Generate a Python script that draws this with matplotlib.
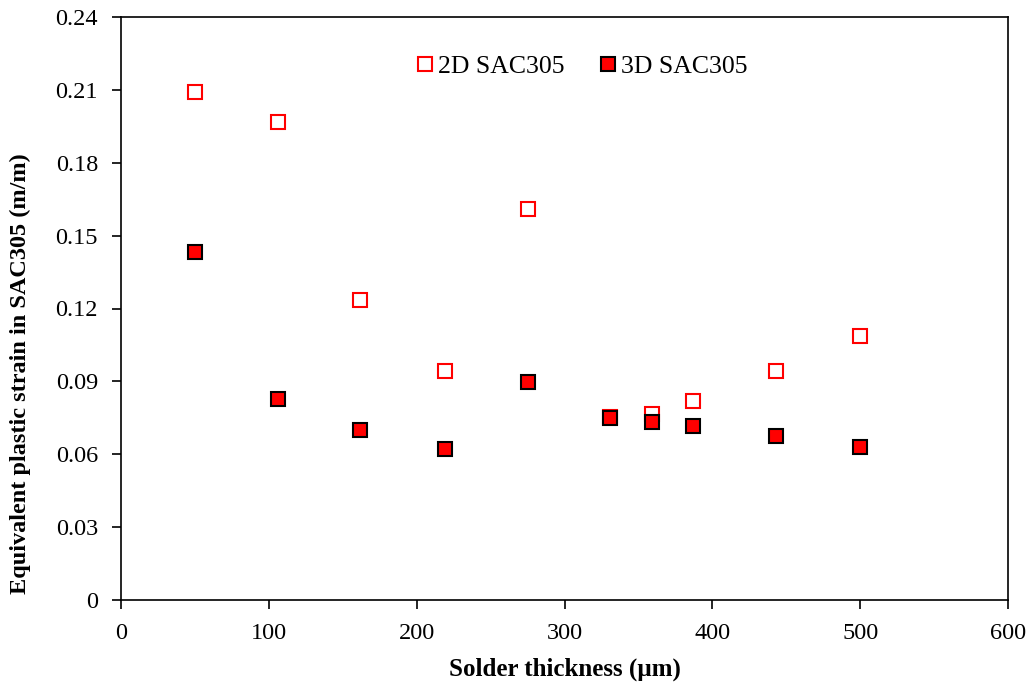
import matplotlib
matplotlib.use("Agg")
import matplotlib.pyplot as plt

# 데이터
thickness = [50, 106, 162, 219, 275, 331, 359, 387, 443, 500]
strain_2d = [0.2091, 0.1969, 0.1233, 0.0944, 0.1610, 0.0752, 0.0767, 0.0821, 0.0944, 0.1087]
strain_3d = [0.1431, 0.0829, 0.0701, 0.0623, 0.0899, 0.0751, 0.0734, 0.0718, 0.0676, 0.0631]

plt.rcParams['font.family'] = ['Liberation Serif', 'DejaVu Serif']

fig = plt.figure(figsize=(10.36, 6.84), dpi=100)
ax = fig.add_axes([121 / 1036, 1 - 600 / 684, (1008 - 121) / 1036, (600 - 17) / 684])

ax.plot(thickness, strain_2d, linestyle='none', marker='s', markersize=10,
        markerfacecolor='white', markeredgecolor='#ff0000', markeredgewidth=1.5,
        label='2D SAC305')
ax.plot(thickness, strain_3d, linestyle='none', marker='s', markersize=10,
        markerfacecolor='#ff0000', markeredgecolor='black', markeredgewidth=1.5,
        label='3D SAC305')

ax.set_xlim(0, 600)
ax.set_ylim(0, 0.24)
ax.set_xticks(range(0, 601, 100))
ax.set_yticks([0, 0.03, 0.06, 0.09, 0.12, 0.15, 0.18, 0.21, 0.24])
ax.set_yticklabels(['0', '0.03', '0.06', '0.09', '0.12', '0.15', '0.18', '0.21', '0.24'])
ax.tick_params(direction='out', length=6.5, width=1.2, labelsize=17.5)
ax.tick_params(axis='x', pad=10)
ax.tick_params(axis='y', pad=10)
for s in ax.spines.values():
    s.set_linewidth(1.2)

ax.set_xlabel('Solder thickness (µm)', fontsize=18, fontweight='bold', labelpad=10)
ax.set_ylabel('Equivalent plastic strain in SAC305 (m/m)', fontsize=17.5, fontweight='bold')
ax.yaxis.set_label_coords(-0.101, 0.388)

ax.legend(loc='upper center', bbox_to_anchor=(0.519, 0.975), ncol=2, frameon=False,
          fontsize=18.5, handletextpad=0.1, columnspacing=1.3, handlelength=0.8)

fig.savefig('out.png', dpi=100)
